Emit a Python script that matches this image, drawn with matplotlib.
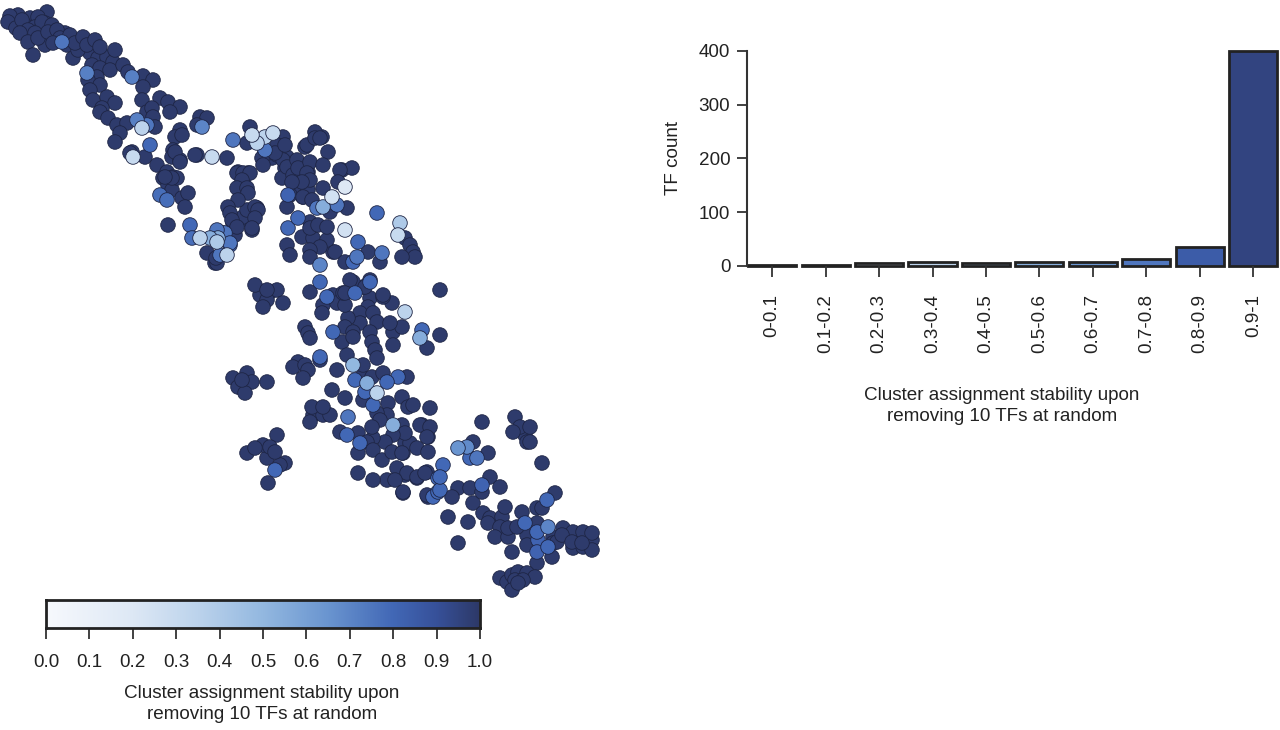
import numpy as np
import matplotlib
matplotlib.use('Agg')
import matplotlib.pyplot as plt
from matplotlib.colors import LinearSegmentedColormap

plt.rcParams['font.family'] = ['Liberation Sans', 'DejaVu Sans']

# data ---------------------------
# embedding positions (picture units) of TFs that stay in their cluster (~1.0)
stable_pts = [
    (18,15),(13,23),(30,18),(47,12),(38,17),(25,25),(35,27),(45,23),(20,33),(28,42),(38,38),(48,32),
    (57,30),(60,38),(53,43),(70,35),(75,43),(83,37),(87,45),(95,40),(100,47),(115,50),(33,55),(73,58),
    (90,53),(98,58),(107,57),(113,62),(92,65),(100,68),(110,70),(123,65),(97,77),(88,80),(100,85),(128,72),
    (143,76),(153,80),(143,87),(90,90),(93,100),(107,97),(115,103),(102,108),(100,112),(108,118),(142,100),
    (160,98),(168,102),(180,107),(170,112),(147,112),(152,108),(153,117),(155,127),(117,125),(127,123),
    (120,133),(115,142),(180,130),(175,137),(182,135),(200,117),(207,118),(197,125),(132,152),(145,157),
    (157,165),(173,150),(172,157),(180,160),(197,155),(227,158),(167,172),(173,177),(163,178),
    (10,16),(8,22),(16,28),(22,20),(28,30),(40,30),(42,22),(52,25),(45,45),(56,36),(65,33),(67,45),(78,50),(35,33),
    (130,153),(168,185),(172,190),(182,198),(188,193),(185,207),(168,225),(175,152),(180,162),(177,178),
    (172,178),(165,177),(195,155),(223,233),(207,253),(217,263),(216,258),(237,173),(243,173),(250,173),
    (242,180),(237,188),(247,188),(248,193),(238,200),(228,207),(230,213),(232,220),(237,227),(243,217),
    (247,210),(255,207),(258,210),(255,218),(252,228),(235,235),(247,143),(250,127),(283,137),(277,145),
    (268,153),(262,158),(263,165),(275,153),(285,145),(283,160),(287,167),(293,175),(297,160),(298,168),
    (307,145),(315,132),(315,138),(320,138),(328,152),(310,162),(323,165),(307,173),(310,180),(302,182),
    (292,182),(282,178),(297,190),(308,190),(290,195),(303,197),(312,200),(287,207),(323,188),(340,170),
    (338,182),(330,212),(347,208),(310,222),(310,228),(318,225),(327,227),(302,237),(313,238),(327,240),
    (320,247),(310,250),(287,245),(290,255),(310,257),(335,252),(345,262),(255,285),(267,290),
    (322,137),(305,147),(342,170),(352,168),(405,238),(410,245),(413,252),(415,257),(402,257),(380,262),
    (368,252),(333,252),(350,280),(370,280),(365,287),(345,293),(440,290),(383,295),(310,292),(238,172),
    (248,173),(243,182),(257,208),(242,220),(233,223),(252,230),(215,263),(265,152),(272,158),(277,155),
    (287,157),(285,168),(297,168),(308,172),(298,177),(307,182),(303,197),
    (260,295),(270,292),(277,290),(267,300),(263,307),(283,303),(333,295),(323,305),(322,313),(337,303),
    (345,305),(343,293),(363,287),(353,282),(383,297),(392,303),(370,298),(368,307),(360,313),(373,313),
    (377,322),(360,323),(348,318),(345,327),(353,332),(353,337),(370,332),(372,342),(375,350),(377,358),
    (390,323),(393,332),(402,327),(393,345),(427,348),(440,335),(305,327),(308,333),(310,338),(320,360),
    (298,362),(293,367),(305,365),(308,370),(303,378),(337,370),(363,365),(362,377),(372,377),(383,373),
    (407,377),(363,400),(332,390),(345,398),(402,397),(408,407),(413,405),(430,408),(388,403),(387,415),
    (377,413),(380,420),(372,427),(402,425),(420,425),(430,427),(427,437),(405,433),(393,435),(385,442),
    (373,438),(358,433),(340,432),(367,442),(358,453),(373,450),(382,460),(392,452),(402,453),(405,443),
    (410,443),(417,448),(428,452),(397,468),(407,473),(417,477),(425,473),(387,480),(395,480),(373,480),
    (358,473),(403,492),(427,495),(312,407),(323,407),(313,415),(323,415),(330,415),(310,422),(233,378),
    (247,373),(252,382),(238,387),(245,393),(267,382),(242,380),(277,435),(263,445),(270,447),(275,452),
    (255,448),(247,453),(267,458),(285,463),(280,465),(268,483),(342,342),(347,355),
    (422,425),(428,437),(403,433),(403,453),(482,422),(515,417),(520,427),(530,427),(513,432),(525,435),
    (527,442),(530,442),(542,463),(473,442),(488,453),(427,472),(417,478),(405,475),(403,493),(458,488),
    (452,497),(470,488),(482,492),(490,477),(500,487),(473,503),(448,517),(468,522),(458,543),(483,513),
    (490,518),(488,523),(502,517),(505,507),(500,527),(495,537),(508,537),(512,552),(508,528),(517,527),
    (522,512),(527,535),(527,545),(537,508),(542,508),(555,493),(537,523),(553,537),(553,543),(557,542),
    (563,528),(573,532),(583,532),(592,533),(562,535),(572,542),(582,543),(592,540),(573,548),(583,547),
    (592,550),(537,563),(552,557),(500,578),(507,582),(512,575),(518,572),(527,573),(535,577),(515,580),
    (523,580),(512,590),(518,583),(428,497),
]

# TFs with lower stability: (x, y, stability)
tinted_pts = [
    (62,42,0.75),(87,73,0.72),(132,77,0.72),(137,120,0.72),(147,125,0.75),(142,128,0.35),(202,127,0.7),
    (150,145,0.8),(133,157,0.3),(212,157,0.3),(160,195,0.78),(167,200,0.78),(190,225,0.8),(192,238,0.78),
    (200,238,0.35),(210,238,0.55),(218,238,0.55),(217,230,0.75),(230,243,0.75),(227,255,0.35),(220,255,0.75),
    (233,140,0.75),(252,135,0.3),(257,143,0.35),(265,137,0.35),(273,133,0.3),(265,150,0.75),(345,187,0.2),
    (332,197,0.25),(323,207,0.55),(337,205,0.75),(317,208,0.75),(288,228,0.8),(345,230,0.25),(320,265,0.7),
    (320,282,0.8),(377,213,0.8),(400,223,0.4),(398,235,0.3),(382,253,0.75),(357,257,0.75),(353,262,0.8),
    (358,242,0.8),(298,218,0.8),(288,195,0.82),(355,293,0.8),(370,282,0.8),(327,297,0.8),(333,332,0.8),
    (405,312,0.35),(422,330,0.8),(420,338,0.55),(320,357,0.8),(353,365,0.5),(355,380,0.8),(398,377,0.8),
    (367,383,0.55),(387,382,0.8),(377,393,0.35),(365,392,0.8),(373,405,0.8),(393,425,0.55),(348,417,0.75),
    (347,435,0.8),(360,443,0.8),(438,478,0.8),(438,492,0.8),(443,465,0.8),(275,470,0.8),(458,448,0.65),
    (467,447,0.68),(470,458,0.8),(477,458,0.75),(440,477,0.8),(440,490,0.8),(433,497,0.8),(482,485,0.82),
    (525,523,0.8),(547,500,0.8),(537,532,0.8),(548,527,0.7),(538,540,0.82),(548,547,0.8),(537,552,0.82),
    (225,233,0.75),(217,242,0.4),(230,245,0.8),
]

bins = ['0-0.1', '0.1-0.2', '0.2-0.3', '0.3-0.4', '0.4-0.5',
        '0.5-0.6', '0.6-0.7', '0.7-0.8', '0.8-0.9', '0.9-1']
bin_mid = [0.05, 0.15, 0.25, 0.35, 0.45, 0.55, 0.65, 0.75, 0.85, 0.95]
tf_count = [1, 1, 5, 7, 6, 8, 7, 13, 36, 400]

cbar_ticks = [0.0, 0.1, 0.2, 0.3, 0.4, 0.5, 0.6, 0.7, 0.8, 0.9, 1.0]
xlab = 'Cluster assignment stability upon\nremoving 10 TFs at random'

# colours ------------------------
cmap = LinearSegmentedColormap.from_list('stab', [
    (0.0, '#f7f9fd'), (0.2, '#dde8f5'), (0.35, '#bcd3ec'), (0.5, '#93b8e0'),
    (0.65, '#6a95d0'), (0.8, '#4268b6'), (0.9, '#37519a'), (1.0, '#2d3968')])

FS = 13.6
W, H = 1280, 730
fig = plt.figure(figsize=(12.8, 7.3), dpi=100)

# scatter ------------------------
ax = fig.add_axes([0, 0, 640 / W, 1])
sx = [p[0] for p in stable_pts] + [p[0] for p in tinted_pts]
sy = [p[1] for p in stable_pts] + [p[1] for p in tinted_pts]
sv = [0.99] * len(stable_pts) + [p[2] for p in tinted_pts]
order = np.argsort(sv)[::-1]
sx, sy, sv = np.array(sx)[order], np.array(sy)[order], np.array(sv)[order]
ax.scatter(sx, sy, c=sv, cmap=cmap, vmin=0, vmax=1, s=110,
           edgecolors='#1e2545', linewidths=0.6)
ax.set_xlim(0, 640)
ax.set_ylim(730, 0)
ax.axis('off')

# colour bar ---------------------
cax = fig.add_axes([46 / W, 1 - 628 / H, 434 / W, 28 / H])
cax.imshow(np.linspace(0, 1, 256)[None, :], aspect='auto', cmap=cmap,
           extent=(0, 1, 0, 1))
cax.set_xlim(0, 1)
cax.set_yticks([])
cax.set_xticks(cbar_ticks)
cax.set_xticklabels(['%.1f' % t for t in cbar_ticks], fontsize=FS, color='#222222')
cax.tick_params(axis='x', length=8, width=1.3, pad=11, color='#333333')
for s in cax.spines.values():
    s.set_linewidth(2)
    s.set_color('#222222')
fig.text(262 / W, 1 - 704 / H, xlab, ha='center', va='center', fontsize=FS,
         color='#222222', linespacing=1.25)

# bar chart ----------------------
bx = fig.add_axes([747 / W, 1 - 266 / H, (W - 747) / W, 215 / H])
xpos = np.arange(len(bins))
bx.bar(xpos, tf_count, width=0.9, color=[cmap(m) for m in bin_mid],
       edgecolor='#222222', linewidth=2, clip_on=False)
bx.set_xlim(-0.47, 9.5)
bx.set_ylim(0, 400)
for s in ['top', 'right', 'bottom']:
    bx.spines[s].set_visible(False)
bx.spines['left'].set_bounds(0, 400)
bx.spines['left'].set_linewidth(1.5)
bx.spines['left'].set_color('#333333')
bx.set_yticks([0, 100, 200, 300, 400])
bx.tick_params(axis='y', labelsize=FS, length=7, width=1.3, pad=5,
               color='#333333', labelcolor='#222222')
bx.set_xticks(xpos)
bx.set_xticklabels(bins, rotation=90, fontsize=FS, color='#222222')
bx.tick_params(axis='x', length=8, width=1.3, pad=12, color='#333333')
bx.set_ylabel('TF count', fontsize=FS, color='#222222', labelpad=12)
fig.text(1002 / W, 1 - 406 / H, xlab, ha='center', va='center', fontsize=FS,
         color='#222222', linespacing=1.25)

fig.savefig('out.png', dpi=100)
